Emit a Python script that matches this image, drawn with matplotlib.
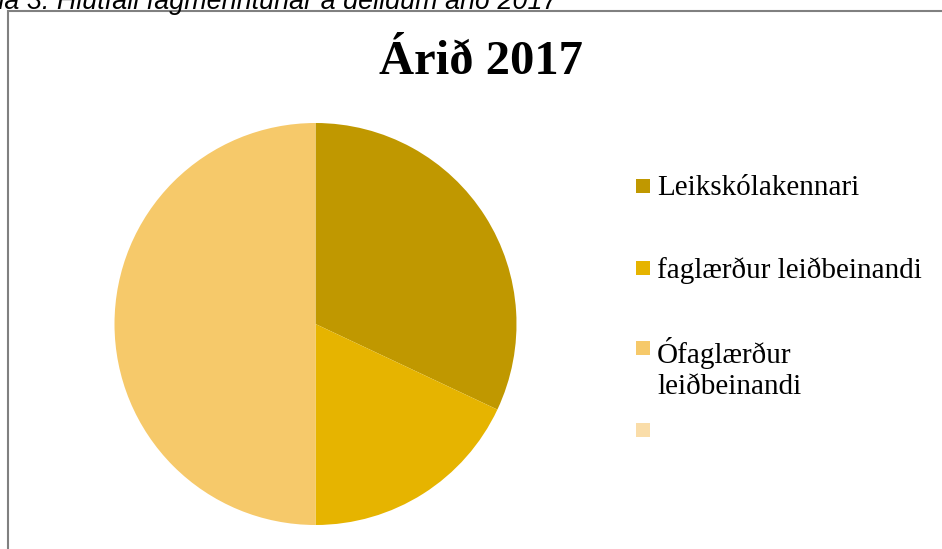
import matplotlib.pyplot as plt
from matplotlib.patches import Rectangle

labels = ["Leikskólakennari", "faglærður leiðbeinandi", "Ófaglærður\nleiðbeinandi", ""]
shares = [32, 18, 50, 0]
colors = ["#C09800", "#E6B400", "#F6C96A", "#FADDA9"]

title = "Árið 2017"
caption = "Tafla 3: Hlutfall fagmenntunar á deildum árið 2017"

W, H = 942, 549
fig = plt.figure(figsize=(W/100, H/100), dpi=100)

# frame of the chart area (runs off right and bottom edges)
fig.patches.append(Rectangle((8/W, -0.05), 1.0, 1 - 11/H + 0.05,
                             transform=fig.transFigure, fill=False,
                             edgecolor="#808080", linewidth=1.5))

# caption, cut off at the top like in the source
fig.text(-38/W, 1 - 9/H, caption, fontsize=19.4, style="italic",
         family="Liberation Sans", ha="left", va="baseline")

fig.text(481/W, 1 - 62/H, title, fontsize=35, fontweight="bold",
         family="Liberation Serif", ha="center", va="center")

ax = fig.add_axes([(315.5 - 201)/W, (225 - 201)/H, 402/W, 402/H])
wedges, _ = ax.pie(shares, colors=colors, startangle=90, counterclock=False,
                   radius=1, wedgeprops=dict(linewidth=0))
ax.set_xlim(-1, 1)
ax.set_ylim(-1, 1)
ax.set_aspect("equal")
ax.axis("off")

# legend, laid out by hand so the wrapped entry keeps its marker on line one
row_y = [186, 268, 348, 430]
for lab, col, y in zip(labels, colors, row_y):
    fig.patches.append(Rectangle((636/W, 1 - (y + 7)/H), 14/W, 14/H,
                                 transform=fig.transFigure, facecolor=col,
                                 edgecolor="none"))
    fig.text(657/W, 1 - (y - 11)/H, lab, fontsize=21, family="Liberation Serif",
             ha="left", va="top", linespacing=1.25)

fig.savefig("out.png", dpi=100)
